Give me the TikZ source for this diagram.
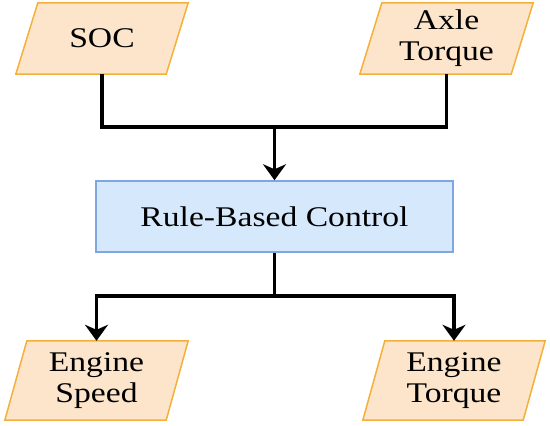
\documentclass[tikz,border=0pt]{standalone}
\usepackage{fontspec}
\setmainfont{Liberation Serif}[FakeStretch=1.18]
\usetikzlibrary{arrows.meta,backgrounds}
\definecolor{infill}{HTML}{FDE5CB}
\definecolor{indraw}{HTML}{F5B03C}
\definecolor{boxfill}{HTML}{D6E8FB}
\definecolor{boxdraw}{HTML}{7EA6E0}
\begin{document}
\begin{tikzpicture}[x=1pt,y=-1pt,
  txt/.style={inner sep=0pt, align=center, font=\fontsize{28.5}{31}\selectfont},
  iobox/.style={txt, minimum height=71pt},
  para/.style={fill=infill, draw=indraw, line width=1.5pt, line join=miter},
  ctrl/.style={txt, minimum width=357pt, minimum height=71pt, fill=boxfill, draw=boxdraw, line width=1.5pt},
  wire/.style={line width=3.4pt, draw=black},
  arr/.style={wire, -{Stealth[length=16pt,width=23pt,inset=5pt]}}]
\useasboundingbox (0,0) rectangle (550,426);

\node[iobox, minimum width=128pt] (soc) at (102,38.5) {SOC};
\node[iobox, minimum width=129pt] (axle) at (446.5,38.5) {Axle\\Torque};
\node[ctrl] (ctrl) at (274.5,216.5) {Rule-Based Control};
\node[iobox, minimum width=139pt, minimum height=79pt] (speed) at (96.5,380.5) {Engine\\Speed};
\node[iobox, minimum width=138pt, minimum height=79pt] (torque) at (454,380.5) {Engine\\Torque};

\begin{scope}[on background layer]
  \foreach \n in {soc,axle,speed,torque}{
    \draw[para] (\n.north west) -- ([xshift=22pt]\n.north east) -- (\n.south east) -- ([xshift=-22pt]\n.south west) -- cycle;
  }
\end{scope}

\coordinate (jin) at (274.5,127);
\coordinate (jout) at (274.5,296);

\draw[wire] (axle.south) |- (jin);
\draw[arr] (soc.south) |- (jin) -- (ctrl.north);
\draw[wire] (ctrl.south) -- (jout);
\draw[arr] (jout) -| (speed.north);
\draw[arr] (jout) -| (torque.north);
\end{tikzpicture}
\end{document}
